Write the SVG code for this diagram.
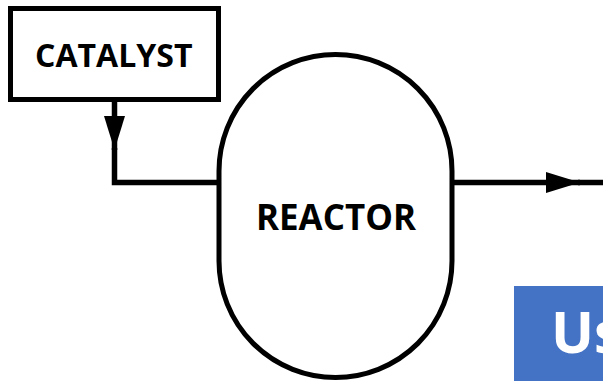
<svg xmlns="http://www.w3.org/2000/svg" width="603" height="381" viewBox="0 0 603 381">
  <defs>
    <style>
      .shape { fill: #ffffff; stroke: #000000; stroke-width: 5; }
      .line { fill: none; stroke: #000000; stroke-width: 5.5; }
      .label { font-family: "Open Sans", "Liberation Sans", sans-serif; font-weight: 700; fill: #000000; }
    </style>
    <marker id="arrow" markerUnits="userSpaceOnUse" markerWidth="36" markerHeight="22" refX="34" refY="10.5" orient="auto" viewBox="0 0 36 22">
      <path d="M0,0 L34,10.5 L0,21 Z" fill="#000000"/>
    </marker>
  </defs>
  <rect width="603" height="381" fill="#ffffff"/>

  <g id="connectors">
    <path class="line" d="M114.5,101 L114.5,150" marker-end="url(#arrow)"/>
    <path class="line" d="M114.5,148 L114.5,182.5 L219,182.5" stroke-linejoin="miter"/>
    <path class="line" d="M452,182.5 L580,182.5" marker-end="url(#arrow)"/>
    <path class="line" d="M578,182.5 L603,182.5"/>
  </g>

  <g id="catalyst">
    <rect class="shape" x="10.5" y="8.5" width="208" height="91"/>
    <text class="label" x="35" y="66.7" font-size="32.7" textLength="157.5" lengthAdjust="spacingAndGlyphs">CATALYST</text>
  </g>

  <g id="reactor">
    <rect class="shape" x="219" y="54.5" width="233" height="323" rx="116.5" ry="116.5"/>
    <text class="label" x="256" y="230" font-size="36.4" textLength="160" lengthAdjust="spacingAndGlyphs">REACTOR</text>
  </g>

  <g id="user">
    <rect x="514" y="286" width="95" height="100" fill="#4472C4"/>
    <text x="551" y="353" font-family="Open Sans, Liberation Sans, sans-serif" font-weight="700" font-size="57" fill="#ffffff">Us</text>
  </g>
</svg>
